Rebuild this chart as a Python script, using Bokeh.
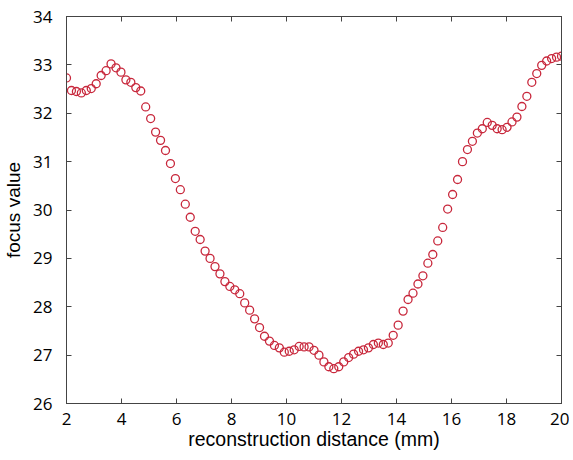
import numpy as np
from bokeh.plotting import figure
from bokeh.models import LinearAxis, FixedTicker, Range1d
from bokeh.embed import file_html
from bokeh.resources import INLINE

# reconstruction distance (mm), 101 samples from 2 to 20
distance = np.linspace(2, 20, 101)

focus_value = [
    32.73, 32.47, 32.45, 32.42, 32.47, 32.51, 32.61, 32.78, 32.88, 33.02,
    32.94, 32.85, 32.69, 32.64, 32.53, 32.46, 32.13, 31.89, 31.61, 31.44,
    31.23, 30.96, 30.65, 30.42, 30.12, 29.85, 29.56, 29.39, 29.15, 29.00,
    28.83, 28.68, 28.52, 28.42, 28.35, 28.27, 28.08, 27.93, 27.75, 27.57,
    27.39, 27.29, 27.20, 27.15, 27.06, 27.08, 27.11, 27.18, 27.17, 27.17,
    27.10, 27.00, 26.86, 26.76, 26.72, 26.76, 26.86, 26.95, 27.02, 27.08,
    27.11, 27.15, 27.22, 27.25, 27.22, 27.25, 27.41, 27.62, 27.91, 28.15,
    28.28, 28.47, 28.64, 28.90, 29.08, 29.36, 29.64, 30.02, 30.32, 30.63,
    31.00, 31.25, 31.42, 31.59, 31.68, 31.81, 31.75, 31.68, 31.66, 31.71,
    31.82, 31.92, 32.14, 32.35, 32.64, 32.82, 32.99, 33.08, 33.13, 33.16,
    33.18,
]

x_ticks = [2, 4, 6, 8, 10, 12, 14, 16, 18, 20]
y_ticks = [26, 27, 28, 29, 30, 31, 32, 33, 34]

TICK_FONT = "Open Sans"
LABEL_FONT = "Liberation Sans"

p = figure(frame_width=495, frame_height=387, output_backend="svg", toolbar_location=None,
           x_range=Range1d(2, 20), y_range=Range1d(26, 34),
           min_border_left=64, min_border_right=8, min_border_top=16,
           min_border_bottom=46)
p.background_fill_color = "white"
p.border_fill_color = "white"
p.outline_line_color = "#444444"
p.xgrid.visible = False
p.ygrid.visible = False

p.scatter(distance, focus_value, size=8, marker="circle", fill_color=None,
          line_color="#c8283c", line_width=1.3)

for ax, ticks in ((p.xaxis[0], x_ticks), (p.yaxis[0], y_ticks)):
    ax.ticker = FixedTicker(ticks=ticks)
    ax.major_tick_in = 5
    ax.major_tick_out = 0
    ax.minor_tick_line_color = None
    ax.axis_line_color = "#444444"
    ax.major_tick_line_color = "#444444"
    ax.major_label_text_font = TICK_FONT
    ax.major_label_text_font_size = "17px"
    ax.major_label_text_color = "black"
    ax.axis_label_text_font = LABEL_FONT
    ax.axis_label_text_font_style = "normal"
    ax.axis_label_text_color = "black"

p.xaxis.axis_label = "reconstruction distance (mm)"
p.yaxis.axis_label = "focus value"
p.xaxis.axis_label_text_font_size = "19.5px"
p.yaxis.axis_label_text_font_size = "19px"
p.xaxis.major_label_standoff = 9
p.yaxis.major_label_standoff = 14
p.xaxis.axis_label_standoff = 0
p.yaxis.axis_label_standoff = 6

top = LinearAxis(ticker=FixedTicker(ticks=x_ticks), major_tick_in=5, major_tick_out=0,
                 minor_tick_line_color=None,
                 major_label_overrides={t: "" for t in x_ticks},
                 major_label_standoff=0, axis_line_color="#444444",
                 major_tick_line_color="#444444")
right = LinearAxis(ticker=FixedTicker(ticks=y_ticks), major_tick_in=5, major_tick_out=0,
                   minor_tick_line_color=None,
                   major_label_overrides={t: "" for t in y_ticks},
                   major_label_standoff=0, axis_line_color="#444444",
                   major_tick_line_color="#444444")
p.add_layout(top, "above")
p.add_layout(right, "right")

open("out.html", "w").write(file_html(p, INLINE))
